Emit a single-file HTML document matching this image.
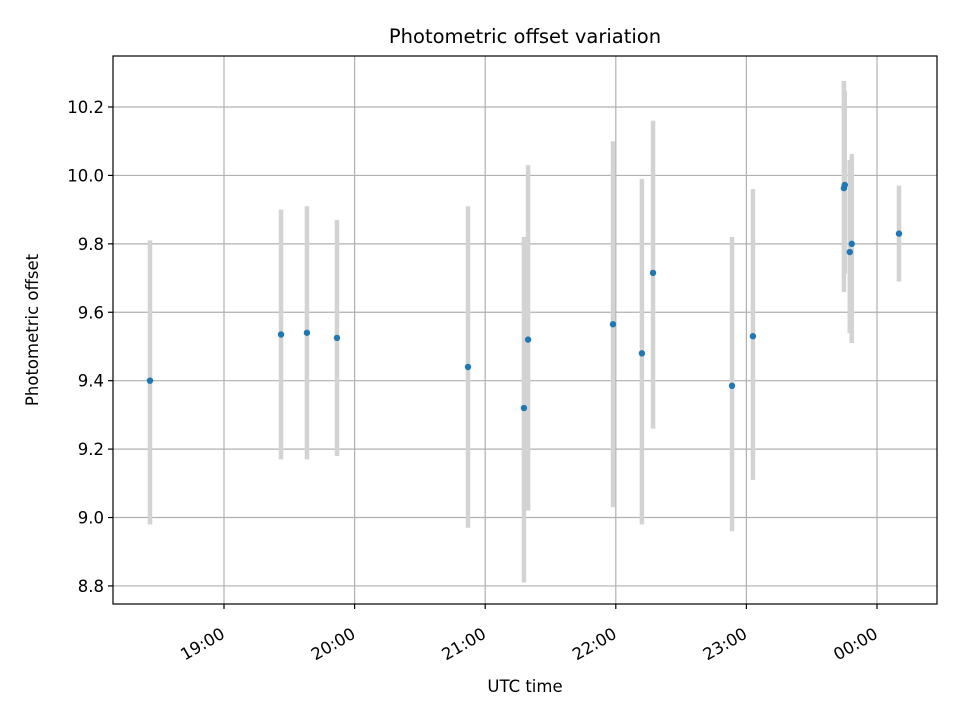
<!DOCTYPE html>
<html><head><meta charset="utf-8"><style>
body{margin:0;background:#fff}
svg{display:block;font-family:"DejaVu Sans","Liberation Sans",sans-serif}
</style></head><body>
<svg id="chart" width="960" height="720">
<rect x="0" y="0" width="960" height="720" fill="#fff"/>
<g id="grid"></g>
<g id="bars"></g>
<g id="pts"></g>
<rect x="113" y="56" width="824" height="548" fill="none" stroke="#000" stroke-width="1.2"/>
<g id="xticks"></g>
<g id="yticks"></g>
<text x="525" y="43" font-size="19.5" text-anchor="middle">Photometric offset variation</text>
<text x="525" y="692" font-size="16.5" text-anchor="middle">UTC time</text>
<text transform="translate(38,330) rotate(-90)" font-size="16.5" text-anchor="middle">Photometric offset</text>
</svg>
<script>
// minutes after 18:00 UTC
const times = [26.0,86.2,98.1,111.9,172.1,197.8,199.7,238.7,252.0,257.1,293.4,303.0,344.8,345.2,347.5,348.4,370.1];
const offsets = [9.40,9.535,9.54,9.525,9.44,9.32,9.52,9.565,9.48,9.715,9.385,9.53,9.963,9.972,9.776,9.80,9.83];
const upper = [9.81,9.90,9.91,9.87,9.91,9.82,10.03,10.10,9.99,10.16,9.82,9.96,10.276,10.247,10.045,10.063,9.97];
const lower = [8.98,9.17,9.17,9.18,8.97,8.81,9.02,9.03,8.98,9.26,8.96,9.11,9.659,9.712,9.539,9.510,9.69];
const xTickMinutes = [60,120,180,240,300,360];
const xTickLabels = ["19:00","20:00","21:00","22:00","23:00","00:00"];
const yTickValues = [8.8,9.0,9.2,9.4,9.6,9.8,10.0,10.2];
const yTickLabels = ["8.8","9.0","9.2","9.4","9.6","9.8","10.0","10.2"];

const NS="http://www.w3.org/2000/svg";
const X = m => 224 + (m-60)*130.6/60;
const Y = v => 107 + (10.2 - v)*342.1;
function mk(tag, attrs, parent){const e=document.createElementNS(NS,tag);for(const k in attrs)e.setAttribute(k,attrs[k]);parent.appendChild(e);return e;}
const grid=document.getElementById('grid'),bars=document.getElementById('bars'),pts=document.getElementById('pts'),xt=document.getElementById('xticks'),yt=document.getElementById('yticks');
xTickMinutes.forEach((m,i)=>{
  const x=X(m);
  const g=mk('line',{x1:x,x2:x,y1:56,y2:604,stroke:'#b0b0b0','stroke-width':1.2},grid);
  
  
  const t=mk('line',{x1:x,x2:x,y1:604,y2:609,stroke:'#000','stroke-width':1.2},xt);
  
  
  const l=mk('text',{transform:`translate(${x+2},637) rotate(-30)`,'font-size':'16.5','text-anchor':'end'},xt);
  l.textContent=xTickLabels[i];
  
  
});
yTickValues.forEach((v,i)=>{
  const y=Y(v);
  const g=mk('line',{x1:113,x2:937,y1:y,y2:y,stroke:'#b0b0b0','stroke-width':1.2},grid);
  
  
  const t=mk('line',{x1:108,x2:113,y1:y,y2:y,stroke:'#000','stroke-width':1.2},yt);
  
  
  const l=mk('text',{x:104,y:y+6,'font-size':'16.5','text-anchor':'end'},yt);
  l.textContent=yTickLabels[i];
  
  
});
times.forEach((m,i)=>{
  const x=X(m);
  const b=mk('line',{x1:x,x2:x,y1:Y(upper[i]),y2:Y(lower[i]),stroke:'#d3d3d3','stroke-width':4.5},bars);
  
  
});
times.forEach((m,i)=>{
  const p=mk('circle',{cx:X(m),cy:Y(offsets[i]),r:3.2,fill:'#1f77b4'},pts);
  
  
});
</script>
</body></html>
